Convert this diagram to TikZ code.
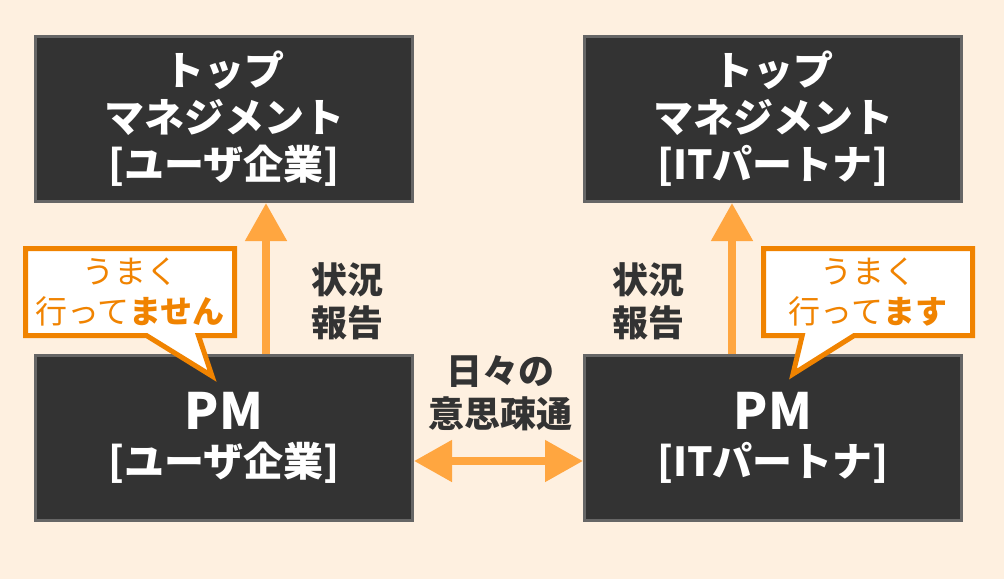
\documentclass[tikz,border=0pt]{standalone}
\usepackage{fontspec}
\setmainfont{Noto Sans CJK JP}
\usepackage{tikz}
\usetikzlibrary{arrows.meta,shapes.callouts}
\definecolor{bg}{HTML}{FEF0E0}
\definecolor{boxfill}{HTML}{333333}
\definecolor{boxline}{HTML}{666666}
\definecolor{arrowor}{HTML}{FFA640}
\definecolor{callor}{HTML}{F08300}
\definecolor{labtext}{HTML}{333333}

\begin{document}
\begin{tikzpicture}[x=1pt,y=-1pt,>={Triangle[length=38pt,width=40pt]},
	box/.style={draw=boxline,fill=boxfill,line width=3pt,minimum width=377pt,minimum height=165pt,inner sep=0pt,text=white,align=center,font=\bfseries\fontsize{40}{47}\selectfont},
	label/.style={text=labtext,align=center,font=\bfseries\fontsize{36}{43}\selectfont},
	bubble/.style={rectangle callout,draw=callor,fill=white,line width=5pt,minimum width=209pt,minimum height=87pt,inner sep=0pt,callout pointer width=52pt,text=callor,align=center,font=\fontsize{32}{40}\selectfont},
	fat/.style={arrowor,line width=8pt}]
	\fill[bg] (0,0) rectangle (1004,579);
	
	\node[box] (t1) at (224,119) {トップ\\マネジメント\\{}[ユーザ企業]};
	\node[box] (t2) at (773,119) {トップ\\マネジメント\\{}[ITパートナ]};
	\node[box] (p1) at (224,438) {{\fontsize{50}{53}\selectfont PM}\\{}[ユーザ企業]};
	\node[box] (p2) at (773,438) {{\fontsize{50}{53}\selectfont PM}\\{}[ITパートナ]};
	
	\draw[fat,->] ([xshift=42pt]p1.north) -- ([xshift=42pt]t1.south);
	\draw[fat,->] ([xshift=-41pt]p2.north) -- ([xshift=-41pt]t2.south);
	\draw[fat,<->] ([yshift=-23pt]p1.east) -- ([yshift=-23pt]p2.west);
	
	\node[label] (r1) at (347,301) {状況\\報告};
	\node[label] (r2) at (648,301) {状況\\報告};
	\node[label] (c1) at (500,393) {日々の\\意思疎通};
	
	\coordinate (k1) at (212,376);
	\coordinate (k2) at (793,374);
	\node[bubble,callout absolute pointer={(k1)}] (b1) at (130,292) {うまく\\行って\textbf{ません}};
	\node[bubble,callout absolute pointer={(k2)}] (b2) at (868,292) {うまく\\行って\textbf{ます}};
	
\end{tikzpicture}
\end{document}
